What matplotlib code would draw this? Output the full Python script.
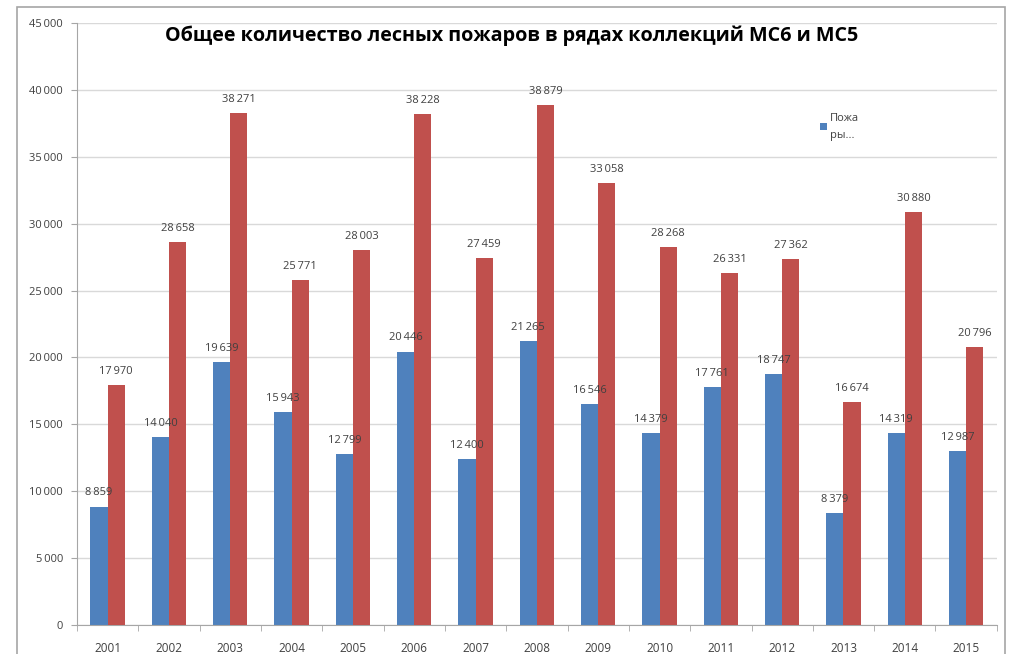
import numpy as np
import matplotlib.pyplot as plt
from matplotlib.patches import Rectangle

plt.rcParams['font.family'] = ['Open Sans', 'DejaVu Sans']

TITLE = "Общее количество лесных пожаров в рядах коллекций МС6 и МС5"
years = ["2001", "2002", "2003", "2004", "2005", "2006", "2007", "2008",
         "2009", "2010", "2011", "2012", "2013", "2014", "2015"]
mc6 = [8859, 14040, 19639, 15943, 12799, 20446, 12400, 21265,
       16546, 14379, 17761, 18747, 8379, 14319, 12987]
mc5 = [17970, 28658, 38271, 25771, 28003, 38228, 27459, 38879,
       33058, 28268, 26331, 27362, 16674, 30880, 20796]
legend_label = "Пожа\nры..."

BLUE = "#4F81BD"
RED = "#C0504D"
TXT = "#404040"


def fmt(v):
    # thousands separated by a thin space, like the Excel original
    return f"{v:,}".replace(",", "\u2009")


fig = plt.figure(figsize=(10.13, 6.54), dpi=100)
# outer chart frame
fig.add_artist(Rectangle((17 / 1013, -0.05), (1005 - 17) / 1013, 1 - 7 / 654 + 0.05,
                         transform=fig.transFigure, fill=False,
                         edgecolor="#A6A6A6", linewidth=1.2))

ax = fig.add_axes([0.076, 0.0443, 0.908, 0.9205])
x = np.arange(len(years))
w = 0.28

b1 = ax.bar(x - w / 2, mc6, w, color=BLUE, zorder=2, label=legend_label)
ax.bar(x + w / 2, mc5, w, color=RED, zorder=3)

for xi, v in zip(x, mc6):
    ax.text(xi - w / 2, v + 600, fmt(v), ha="center", va="bottom",
            fontsize=8, color=TXT, zorder=4)
for xi, v in zip(x, mc5):
    ax.text(xi + w / 2, v + 600, fmt(v), ha="center", va="bottom",
            fontsize=8, color=TXT, zorder=4)

ax.set_xlim(-0.5, len(years) - 0.5)
ax.set_ylim(0, 45000)
ax.set_yticks(np.arange(0, 45001, 5000))
ax.set_yticklabels([fmt(int(t)) for t in np.arange(0, 45001, 5000)])
ax.set_xticks(x)
ax.set_xticklabels(years)
ax.set_xticks(np.arange(-0.5, len(years), 1), minor=True)
ax.tick_params(axis="x", which="major", length=0, pad=12, labelsize=8.5, labelcolor=TXT)
ax.tick_params(axis="x", which="minor", length=4, color="#A6A6A6", direction="out")
ax.tick_params(axis="y", length=4, color="#A6A6A6", pad=6, labelsize=8, labelcolor=TXT)

ax.grid(axis="y", color="#D9D9D9", linewidth=1, zorder=0)
ax.set_axisbelow(True)
for s in ["top", "right"]:
    ax.spines[s].set_visible(False)
for s in ["left", "bottom"]:
    ax.spines[s].set_color("#A6A6A6")

leg = ax.legend(handles=[b1], loc="upper left", bbox_to_anchor=(0.797, 0.867),
                frameon=False, fontsize=8, labelcolor=TXT, handlelength=0.6,
                handleheight=0.6, handletextpad=0.3)
leg.get_texts()[0].set_linespacing(1.7)

fig.text(0.505, 0.946, TITLE, ha="center", va="center", fontsize=14.2,
         fontweight="bold", color="black")

fig.savefig("out.png", dpi=100)
